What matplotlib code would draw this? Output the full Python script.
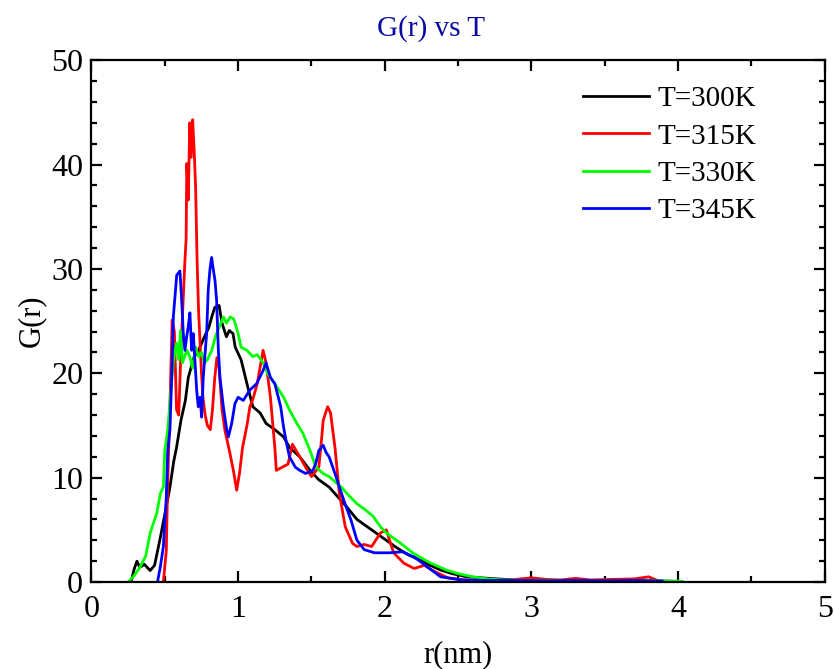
import matplotlib
matplotlib.use("Agg")
import matplotlib.pyplot as plt
from matplotlib.ticker import MultipleLocator

# ---- data (r in nm, G(r)) ----
labels = ["T=300K", "T=315K", "T=330K", "T=345K"]
colors = ["#000000", "#FF0000", "#00FF00", "#0000FF"]

T300 = [(0.27, 0), (0.29, 1.2), (0.31, 2.0), (0.33, 1.4), (0.36, 1.7), (0.40, 1.1),
        (0.43, 1.6), (0.47, 4.3), (0.50, 6.5), (0.535, 9.1), (0.56, 11.5), (0.58, 12.9),
        (0.61, 15.5), (0.64, 17.4), (0.66, 19.6), (0.70, 21.6), (0.73, 22.2), (0.77, 23.5),
        (0.80, 24.4), (0.82, 25.4), (0.84, 26.3), (0.87, 26.5), (0.89, 24.8), (0.92, 23.5),
        (0.94, 24.1), (0.965, 23.8), (0.98, 22.5), (1.02, 21.3), (1.06, 19.0), (1.10, 16.8),
        (1.15, 16.2), (1.19, 15.2), (1.25, 14.6), (1.31, 13.9), (1.35, 12.9), (1.42, 12.0),
        (1.49, 10.7), (1.55, 9.8), (1.62, 9.1), (1.69, 8.0), (1.74, 7.2), (1.81, 6.0),
        (1.88, 5.3), (1.95, 4.6), (2.01, 4.0), (2.08, 3.3), (2.16, 2.6), (2.24, 2.1),
        (2.31, 1.6), (2.38, 1.15), (2.46, 0.8), (2.56, 0.5), (2.66, 0.4), (2.76, 0.3),
        (2.9, 0.2), (3.1, 0.15), (3.3, 0.12), (3.5, 0.1), (3.7, 0.1), (3.9, 0.1), (4.0, 0.05)]

T315 = [(0.49, 0), (0.51, 3.0), (0.52, 9.8), (0.535, 17.0), (0.55, 25.1), (0.565, 24.0),
        (0.58, 16.5), (0.595, 16.0), (0.61, 22.2), (0.625, 27.0), (0.637, 30.8), (0.645, 32.8),
        (0.65, 40.1), (0.66, 36.6), (0.67, 44.0), (0.68, 40.7), (0.69, 44.3), (0.70, 41.4),
        (0.71, 37.8), (0.72, 30.8), (0.73, 26.0), (0.74, 23.0), (0.75, 20.0), (0.76, 17.7),
        (0.775, 16.0), (0.79, 15.0), (0.81, 14.6), (0.825, 16.5), (0.84, 19.5), (0.855, 21.5),
        (0.87, 20.5), (0.89, 16.5), (0.91, 14.5), (0.94, 12.6), (0.97, 10.5), (0.99, 8.8),
        (1.01, 10.5), (1.03, 12.9), (1.06, 15.0), (1.08, 16.8), (1.10, 17.5), (1.13, 19.0),
        (1.17, 22.2), (1.19, 21.0), (1.22, 17.7), (1.25, 12.9), (1.26, 10.7), (1.30, 11.0),
        (1.34, 11.3), (1.37, 13.2), (1.42, 12.0), (1.46, 11.0), (1.50, 10.1), (1.55, 11.0),
        (1.57, 13.9), (1.58, 15.5), (1.61, 16.8), (1.63, 16.2), (1.66, 12.9), (1.69, 8.5),
        (1.73, 5.3), (1.78, 3.7), (1.81, 3.4), (1.86, 3.6), (1.91, 3.4), (1.97, 4.7),
        (2.01, 5.0), (2.06, 2.8), (2.13, 1.8), (2.20, 1.3), (2.27, 1.6), (2.34, 1.0),
        (2.43, 0.4), (2.55, 0.2), (2.7, 0.15), (2.85, 0.2), (3.0, 0.4), (3.1, 0.25),
        (3.2, 0.2), (3.3, 0.35), (3.4, 0.2), (3.55, 0.25), (3.7, 0.3), (3.8, 0.5), (3.85, 0.2)]

T330 = [(0.25, 0), (0.29, 0.6), (0.33, 1.4), (0.37, 2.5), (0.40, 4.7), (0.445, 6.6),
        (0.47, 8.5), (0.49, 9.1), (0.50, 12.6), (0.52, 14.6), (0.545, 19.0), (0.56, 21.3),
        (0.58, 22.9), (0.595, 21.3), (0.607, 24.1), (0.62, 21.0), (0.65, 22.2), (0.67, 21.6),
        (0.69, 20.5), (0.71, 22.5), (0.73, 21.6), (0.75, 22.0), (0.77, 21.0), (0.79, 21.3),
        (0.82, 22.2), (0.845, 23.5), (0.87, 24.4), (0.90, 25.4), (0.92, 24.8), (0.945, 25.4),
        (0.97, 25.2), (1.0, 23.8), (1.02, 22.5), (1.06, 22.2), (1.10, 21.6), (1.13, 21.8),
        (1.17, 21.0), (1.20, 20.0), (1.25, 19.0), (1.31, 17.7), (1.35, 16.5), (1.40, 15.2),
        (1.44, 14.3), (1.49, 12.6), (1.53, 11.0), (1.58, 10.4), (1.62, 10.1), (1.67, 9.5),
        (1.71, 9.0), (1.74, 8.5), (1.81, 7.5), (1.86, 7.0), (1.92, 6.3), (1.97, 5.3),
        (2.01, 4.7), (2.10, 3.8), (2.19, 2.8), (2.30, 1.9), (2.42, 1.15), (2.50, 0.8),
        (2.60, 0.5), (2.7, 0.3), (2.8, 0.2), (3.0, 0.15), (3.2, 0.12), (3.4, 0.1),
        (3.6, 0.1), (3.8, 0.1), (4.0, 0.1), (4.03, 0.05)]

T345 = [(0.45, 0), (0.47, 1.5), (0.49, 3.4), (0.51, 8.1), (0.52, 12.6), (0.535, 14.6),
        (0.55, 21.0), (0.558, 25.4), (0.581, 29.4), (0.603, 29.8), (0.615, 27.0), (0.626, 23.8),
        (0.637, 22.2), (0.649, 23.5), (0.66, 24.5), (0.671, 25.8), (0.683, 22.2), (0.694, 23.8),
        (0.705, 21.3), (0.717, 18.4), (0.728, 16.8), (0.74, 17.7), (0.751, 15.8), (0.762, 19.6),
        (0.775, 22.0), (0.785, 23.8), (0.796, 28.0), (0.808, 30.0), (0.819, 31.1), (0.83, 30.0),
        (0.842, 28.9), (0.853, 27.0), (0.865, 22.2), (0.876, 19.6), (0.899, 16.8), (0.922, 14.6),
        (0.933, 13.9), (0.956, 15.2), (0.978, 17.1), (1.0, 17.7), (1.035, 17.4), (1.08, 18.4),
        (1.126, 19.0), (1.171, 20.3), (1.19, 21.0), (1.22, 19.6), (1.25, 19.0), (1.29, 16.8),
        (1.31, 14.8), (1.33, 13.3), (1.35, 12.0), (1.39, 11.0), (1.42, 10.7), (1.46, 10.4),
        (1.51, 10.7), (1.53, 11.4), (1.55, 12.6), (1.58, 13.1), (1.60, 12.4), (1.62, 12.0),
        (1.66, 10.4), (1.69, 9.1), (1.72, 7.85), (1.77, 5.9), (1.81, 4.0), (1.86, 3.1),
        (1.93, 2.8), (2.03, 2.8), (2.12, 2.9), (2.20, 2.4), (2.29, 1.45), (2.38, 0.5),
        (2.52, 0.2), (2.7, 0.15), (2.9, 0.15), (3.1, 0.12), (3.3, 0.15), (3.5, 0.12),
        (3.7, 0.15), (3.89, 0.1)]

series = [T300, T315, T330, T345]

xticks = [0, 1, 2, 3, 4, 5]
yticks = [0, 10, 20, 30, 40, 50]

# ---- figure ----
plt.rcParams['font.family'] = ['Liberation Serif', 'DejaVu Serif']

fig = plt.figure(figsize=(8.34, 6.69), dpi=100)
ax = fig.add_axes([0.1097, 0.130, 0.8793, 0.780])

for pts, lab, col in zip(series, labels, colors):
    xs = [p[0] for p in pts]
    ys = [p[1] for p in pts]
    ax.plot(xs, ys, color=col, lw=2.0, label=lab)

ax.set_xlim(0, 5)
ax.set_ylim(0, 50)
ax.set_xticks(xticks)
ax.set_yticks(yticks)
ax.xaxis.set_minor_locator(MultipleLocator(0.5))
ax.yaxis.set_minor_locator(MultipleLocator(2))
ax.tick_params(which='both', direction='in', top=True, right=True, labelsize=23, width=1.6)
ax.tick_params(which='major', length=8)
ax.tick_params(axis='x', which='major', pad=9)
ax.tick_params(axis='y', which='major', pad=6)
ax.tick_params(which='minor', length=4)
for s in ax.spines.values():
    s.set_linewidth(1.6)

ax.set_xlabel("r(nm)", fontsize=22, labelpad=12)
ax.set_ylabel("G(r)", fontsize=22, labelpad=4)
fig.text(0.517, 0.958, "G(r) vs T", fontsize=21, color='#0A0AA0', ha='center', va='center')

leg = ax.legend(loc='upper left', frameon=False, fontsize=21, handlelength=2.25,
                handletextpad=0.3, labelspacing=0.37, borderpad=0.4,
                bbox_to_anchor=(0.635, 1.001))

fig.savefig("out.png", dpi=100)
